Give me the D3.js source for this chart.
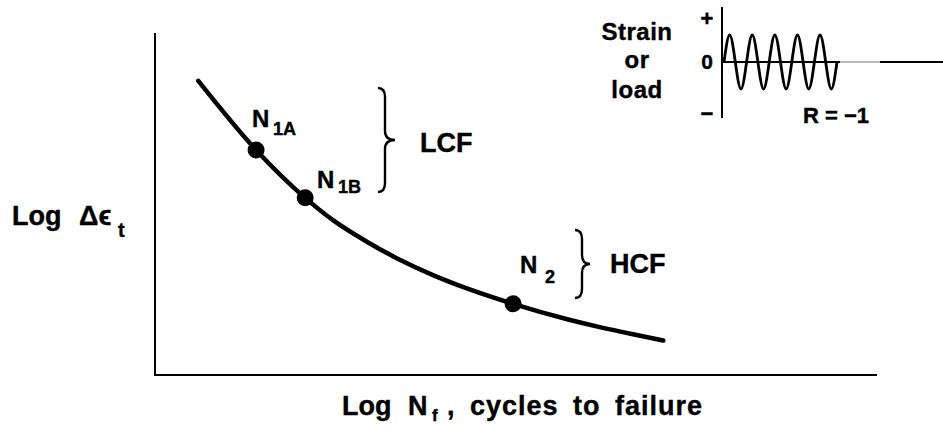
<!DOCTYPE html>
<meta charset="utf-8">
<style>
body { margin: 0; background: #fff; }
text { font-family: "Liberation Sans", Arial, Helvetica, sans-serif; font-weight: bold; fill: #000; stroke: #000; stroke-width: 0.4; }
.axis { stroke: #000; stroke-width: 2; fill: none; }
.brace { stroke: #000; stroke-width: 2.4; fill: none; }
</style>
<svg width="943" height="425"></svg>
<script src="https://cdn.jsdelivr.net/npm/d3@7"></script>
<script>

// strain-life curve (log Nf, log strain range)
var curveLogN   = [0.60, 1.40, 2.08, 2.47, 2.94, 3.39, 3.85, 4.32, 4.96, 5.71, 6.16, 6.62, 7.04];
var curveLogEps = [8.60, 6.58, 5.18, 4.52, 3.89, 3.37, 2.92, 2.53, 2.08, 1.63, 1.40, 1.19, 1.01];

var pointNames  = ["1A", "1B", "2"];
var pointLogN   = [1.40, 2.08, 4.96];
var pointLogEps = [6.58, 5.18, 2.08];

// inset load history, R = -1 (five cycles, quarter-cycle steps)
var waveValues = [0, 1, 0, -1, 0, 1, 0, -1, 0, 1, 0, -1, 0, 1, 0, -1, 0, 1, 0, -1, 0];
var insetTickLabels = ["+", "0", "\u2212"];
var insetTickValues = [1.63, 0, -1.89];

var svg = d3.select("svg");

var x = d3.scaleLinear().domain([0, 10]).range([155, 877]);
var y = d3.scaleLinear().domain([0, 10]).range([375, 33]);

// axes
svg.append("path")
    .attr("class", "axis")
    .attr("d", "M" + x(0) + "," + y(10) + "V" + y(0) + "H" + x(10));

var line = d3.line()
    .x(function(d) { return x(d[0]); })
    .y(function(d) { return y(d[1]); })
    .curve(d3.curveMonotoneX);

svg.append("path")
    .datum(d3.zip(curveLogN, curveLogEps))
    .attr("d", line)
    .attr("fill", "none")
    .attr("stroke", "#000")
    .attr("stroke-width", 4.5)
    .attr("stroke-linecap", "round");

svg.selectAll(".pt")
  .data(d3.zip(pointLogN, pointLogEps))
  .enter().append("circle")
    .attr("class", "pt")
    .attr("cx", function(d) { return x(d[0]); })
    .attr("cy", function(d) { return y(d[1]); })
    .attr("r", 8.5)
    .attr("fill", "#000");

// point labels
var labelPos = [[252, 127, 273, 135], [317, 188, 338, 193], [520, 273, 545, 283]];
pointNames.forEach(function(name, i) {
  var p = labelPos[i];
  svg.append("text").attr("x", p[0]).attr("y", p[1]).style("font-size", "24px").text("N");
  svg.append("text").attr("x", p[2]).attr("y", p[3]).style("font-size", "18px").text(name);
});

// braces
function brace(xs, y0, y1, w) {
  var ym = (y0 + y1) / 2, r = 9;
  return "M" + (xs - 7) + "," + y0 +
    "Q" + xs + "," + y0 + " " + xs + "," + (y0 + r) +
    "V" + (ym - r) +
    "Q" + xs + "," + ym + " " + (xs + w) + "," + ym +
    "Q" + xs + "," + ym + " " + xs + "," + (ym + r) +
    "V" + (y1 - r) +
    "Q" + xs + "," + y1 + " " + (xs - 7) + "," + y1;
}
svg.append("path").attr("class", "brace").attr("d", brace(385, 88, 192, 10));
svg.append("path").attr("class", "brace").attr("d", brace(582, 230, 298, 8));

svg.append("text").attr("x", 420).attr("y", 152).style("font-size", "27px").text("LCF");
svg.append("text").attr("x", 610).attr("y", 273).style("font-size", "27px").text("HCF");

// axis titles
var yt = svg.append("text").attr("y", 225).style("font-size", "27px");
yt.append("tspan").attr("x", 12).text("Log");
yt.append("tspan").attr("x", 79).text("\u0394\u03f5");
yt.append("tspan").attr("x", 118).attr("y", 237).style("font-size", "20px").text("t");

var xt = svg.append("text").attr("y", 415).style("font-size", "27px");
xt.append("tspan").attr("x", 342).text("Log");
xt.append("tspan").attr("x", 408).text("N");
xt.append("tspan").attr("x", 432).attr("y", 421).style("font-size", "17px").text("f");
xt.append("tspan").attr("x", 447).attr("y", 415)
    .style("word-spacing", "6px").style("letter-spacing", "1px")
    .text(", cycles to failure");

// inset
var ix = d3.scaleLinear().domain([0, 5]).range([724, 837]);
var iy = d3.scaleLinear().domain([-1, 1]).range([89, 35]);

svg.append("line").attr("x1", 722).attr("x2", 722).attr("y1", 7).attr("y2", 118)
    .attr("stroke", "#000").attr("stroke-width", 2);
svg.append("line").attr("x1", 722).attr("x2", 840).attr("y1", iy(0)).attr("y2", iy(0))
    .attr("stroke", "#000").attr("stroke-width", 1.8);
svg.append("line").attr("x1", 840).attr("x2", 880).attr("y1", iy(0)).attr("y2", iy(0))
    .attr("stroke", "#777").attr("stroke-width", 1.2);
svg.append("line").attr("x1", 880).attr("x2", 943).attr("y1", iy(0)).attr("y2", iy(0))
    .attr("stroke", "#000").attr("stroke-width", 1.8);

svg.append("path")
    .datum(waveValues)
    .attr("d", d3.line()
        .x(function(d, i) { return ix(i * 0.25); })
        .y(function(d) { return iy(d); })
        .curve(d3.curveNatural))
    .attr("fill", "none")
    .attr("stroke", "#000")
    .attr("stroke-width", 2.8);

svg.selectAll(".itick")
  .data(insetTickLabels)
  .enter().append("text")
    .attr("class", "itick")
    .attr("x", 707)
    .attr("y", function(d, i) { return iy(insetTickValues[i]); })
    .attr("dy", "0.35em")
    .attr("text-anchor", "middle")
    .style("font-size", function(d, i) { return i == 1 ? "21px" : "22px"; })
    .text(function(d) { return d; });

var insetWords = ["Strain", "or", "load"];
var insetBase = [40, 68, 98];
svg.selectAll(".iword")
  .data(insetWords)
  .enter().append("text")
    .attr("class", "iword")
    .attr("x", 637)
    .attr("y", function(d, i) { return insetBase[i]; })
    .attr("text-anchor", "middle")
    .style("font-size", "24px")
    .style("letter-spacing", "0.5px")
    .text(function(d) { return d; });

svg.append("text").attr("x", 803).attr("y", 123).style("font-size", "22px").text("R = \u22121");

</script>
